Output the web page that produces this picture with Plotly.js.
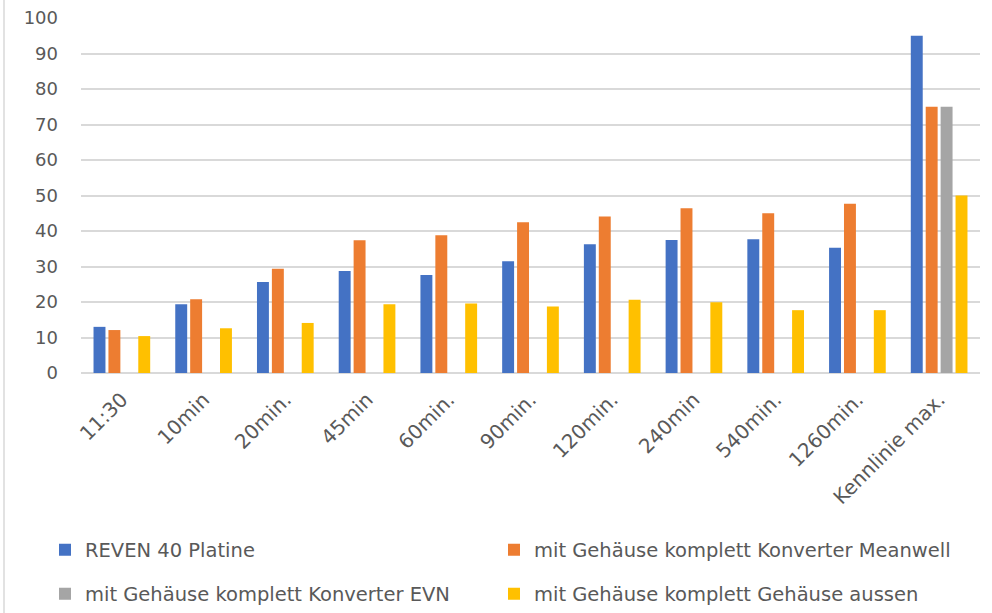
<!DOCTYPE html>
<html>
<head>
<meta charset="utf-8">
<script src="https://cdn.plot.ly/plotly-3.0.1.min.js"></script>
<style>html,body{margin:0;padding:0;background:#fff;}#chart{width:992px;height:613px;}</style>
</head>
<body>
<div id="chart"></div>
<script>
const categories = ["11:30","10min","20min.","45min","60min.","90min.","120min.","240min","540min.","1260min.","Kennlinie max."];
const seriesNames = ["REVEN 40 Platine","mit Gehäuse komplett Konverter Meanwell","mit Gehäuse komplett Konverter EVN","mit Gehäuse komplett Gehäuse aussen"];
const reven = [13.0, 19.4, 25.6, 28.7, 27.6, 31.5, 36.3, 37.5, 37.7, 35.3, 95];
const meanwell = [12.1, 20.8, 29.4, 37.4, 38.8, 42.5, 44.1, 46.4, 45.0, 47.7, 75];
const evn = [null, null, null, null, null, null, null, null, null, null, 75];
const aussen = [10.4, 12.6, 14.1, 19.4, 19.6, 18.7, 20.6, 19.9, 17.7, 17.7, 50];
const yTicks = [0,10,20,30,40,50,60,70,80,90,100];

const colors = ["#4472C4","#ED7D31","#A5A5A5","#FFC000"];
const values = [reven, meanwell, evn, aussen];
const legendIds = ["legend","legend2","legend3","legend4"];

const traces = values.map((v,i)=>({
  type:'bar', x:categories, y:v, name:seriesNames[i],
  marker:{color:colors[i], line:{width:0}},
  legend:legendIds[i], hoverinfo:'skip'
}));

const font = "'DejaVu Sans', sans-serif";
function leg(x, yPix){
  return {orientation:'h', xref:'container', yref:'container', xanchor:'left', yanchor:'middle',
    x:x, y:1-yPix/613, font:{family:font, size:19.5, color:'#595959'}, bgcolor:'rgba(0,0,0,0)'};
}

const layout = {
  width:992, height:613,
  margin:{l:81, r:12, t:18, b:240},
  paper_bgcolor:'#fff', plot_bgcolor:'#fff',
  font:{family:font, color:'#595959'},
  barmode:'group', bargap:0.27, bargroupgap:0.2,
  showlegend:true,
  xaxis:{type:'category', tickangle:-45, tickfont:{family:font, size:20, color:'#595959'},
         showgrid:false, showline:false, ticks:'', zeroline:false, fixedrange:true, ticklabelstandoff:10},
  yaxis:{range:[0,100], tickvals:yTicks, ticktext:yTicks.map(String),
         tickfont:{family:font, size:18, color:'#595959'}, showgrid:true, gridcolor:'#d9d9d9', gridwidth:2,
         zeroline:true, zerolinecolor:'#d9d9d9', zerolinewidth:2, showline:false, ticks:'', ticklabelstandoff:22, fixedrange:true},
  legend:leg(45/992, 550),
  legend2:leg(494/992, 550),
  legend3:leg(45/992, 594),
  legend4:leg(494/992, 594),
  shapes:[{type:'line', xref:'paper', yref:'paper', x0:(4-81)/899, x1:(4-81)/899, y0:-2, y1:2, line:{color:'#d9d9d9', width:1.5}}]
};

Plotly.newPlot('chart', traces, layout, {displayModeBar:false, staticPlot:true});
</script>
</body>
</html>
